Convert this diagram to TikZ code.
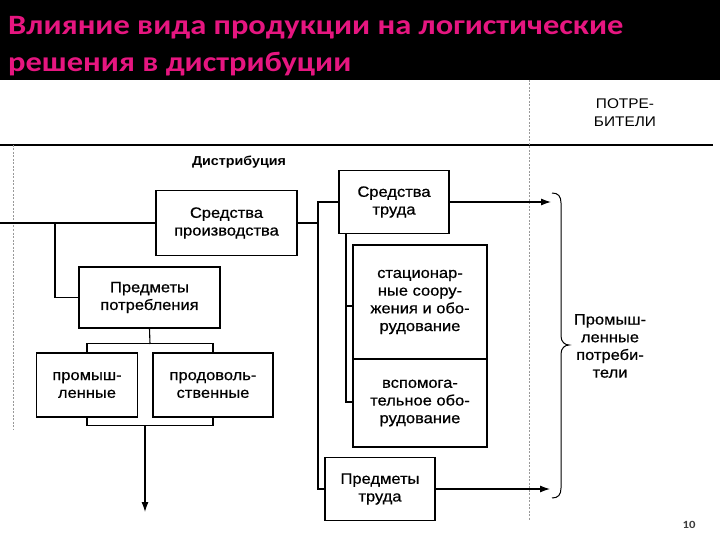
\documentclass[tikz,border=0pt]{standalone}
\usepackage{fontspec}
\setmainfont{Liberation Sans}[FakeStretch=1.1]
\newfontfamily\boxfont{Liberation Sans}[FakeStretch=1.1, FakeBold=0.6]
\newfontfamily\titlefont{Carlito}[FakeStretch=1.16]
\usetikzlibrary{arrows.meta}
\definecolor{titlemag}{RGB}{230,22,128}
\definecolor{pgnum}{RGB}{60,60,60}
\tikzset{
  box/.style={draw=black, line width=1.5pt, align=center, inner sep=0pt,
    font=\boxfont\fontsize{15}{17.7}\selectfont},
  conn/.style={draw=black, line width=1.1pt},
  arr/.style={conn, -{Latex[length=10pt,width=7pt]}},
  dline/.style={draw=gray!80, line width=0.6pt, dash pattern=on 2pt off 1.5pt},
  lbl/.style={align=center, inner sep=0pt, font=\boxfont\fontsize{15}{17.7}\selectfont},
  ttl/.style={anchor=base west, inner sep=0pt, text=titlemag, font=\titlefont\bfseries\fontsize{28}{30}\selectfont}
}
\begin{document}
\begin{tikzpicture}[x=1pt,y=-1pt]
\useasboundingbox (0,0) rectangle (720,540);
\fill[white] (0,0) rectangle (720,540);
\fill[black] (0,0) rectangle (720,80);
\node[ttl] (t1) at (8,35) {Влияние вида продукции на логистические};
\node[ttl] (t2) at (8,72) {решения в дистрибуции};

% frame lines
\coordinate (hl0) at (0,145);
\coordinate (hl1) at (713,145);
\draw[conn, line width=1.2pt] (hl0) -- (hl1);
\coordinate (dv0) at (529,80);
\coordinate (dv1) at (529,520);
\draw[dline] (dv0) -- (dv1);
\coordinate (dl0) at (13,145);
\coordinate (dl1) at (13,430);
\draw[dline] (dl0) -- (dl1);

\node[align=center, inner sep=0pt, font=\fontsize{14}{18}\selectfont] (potr) at (625,113) {ПОТРЕ-\\БИТЕЛИ};
\node[inner sep=0pt, font=\bfseries\fontsize{13}{15}\selectfont] (distr) at (239,162) {Дистрибуция};

% boxes
\node[box, minimum width=141pt, minimum height=65pt] (sp) at (226.5,223) {Средства\\производства};
\node[box, minimum width=141pt, minimum height=61pt] (pp) at (149.5,297.5) {Предметы\\потребления};
\node[box, minimum width=101pt, minimum height=64pt] (prom) at (87,385) {промыш-\\ленные};
\node[box, minimum width=120pt, minimum height=64pt] (prod) at (213,385) {продоволь-\\ственные};
\node[box, minimum width=110pt, minimum height=63pt] (st) at (394,202) {Средства\\труда};
\node[box, minimum width=134pt, minimum height=114pt] (stac) at (420,302) {стационар-\\ные соору-\\жения и обо-\\рудование};
\node[box, minimum width=134pt, minimum height=88pt] (vsp) at (420,403) {вспомога-\\тельное обо-\\рудование};
\node[box, minimum width=110pt, minimum height=63pt] (pt) at (380,489) {Предметы\\труда};

% left connectors
\coordinate (in0) at (0,223);
\draw[conn] (in0) -- (sp.west);
\coordinate (br0) at (55,223);
\draw[conn] (br0) |- (pp.west);
\coordinate (pps) at (pp.south);
\coordinate (hb) at (150,344);
\draw[conn] (pps) -- (hb);
\draw[conn] (prom.north) -- ++(0,-9) -| (prod.north);
\draw[conn] (prom.south) -- ++(0,8) -| (prod.south);
\coordinate (ab0) at (145,425);
\coordinate (ab1) at (145,512);
\draw[arr] (ab0) -- (ab1);

% right connectors
\coordinate (j0) at (318,223);
\coordinate (j1) at (318,202);
\coordinate (j2) at (318,489);
\draw[conn] (sp.east) -- (j0);
\draw[conn] (st.west) -- (j1) -- (j2) -- (pt.west);
\coordinate (k0) at (346,233.5);
\coordinate (k1) at (346,306);
\coordinate (k2) at (346,402);
\draw[conn] (k0) -- (k2) -- (vsp.west |- k2);
\draw[conn] (k1) -- (stac.west |- k1);
\coordinate (e1) at (551,202);
\coordinate (e2) at (550,489);
\draw[arr] (st.east) -- (e1);
\draw[arr] (pt.east) -- (e2);

% brace
\coordinate (bt) at (552,193);
\coordinate (bm) at (569,345);
\coordinate (bb) at (552,498);
\draw[line width=1pt] (bt) .. controls (558,193) and (561,196) .. (561,203)
  -- (561,336) .. controls (561,342) and (565,345) .. (bm)
  .. controls (565,345) and (561,348) .. (561,354)
  -- (561,488) .. controls (561,495) and (558,498) .. (bb);

\node[lbl] (cons) at (610,346) {Промыш-\\ленные\\потреби-\\тели};
\node[inner sep=0pt, text=pgnum, font=\titlefont\bfseries\fontsize{11}{13}\selectfont] (pg) at (689,525) {10};
\end{tikzpicture}
\end{document}
